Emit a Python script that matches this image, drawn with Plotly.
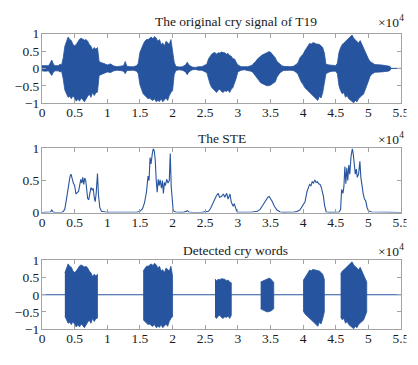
import plotly.graph_objects as go

# ---------------- data ----------------
# envelope of the original cry signal (x10^4), time in s
SIG_T = [0, 0.05, 0.1, 0.125, 0.15, 0.175, 0.2, 0.25, 0.275, 0.3,
         0.325, 0.35, 0.375, 0.4, 0.425, 0.45, 0.475, 0.5, 0.525, 0.55, 0.575, 0.6,
         0.625, 0.65, 0.675, 0.7, 0.725, 0.75, 0.775, 0.8, 0.825, 0.85, 0.875, 0.9,
         0.95, 1.0, 1.05, 1.1, 1.15, 1.2, 1.25, 1.275, 1.3, 1.35, 1.4, 1.45, 1.475,
         1.5, 1.525, 1.55, 1.575, 1.6, 1.625, 1.65, 1.675, 1.7, 1.725, 1.75, 1.775,
         1.8, 1.825, 1.85, 1.875, 1.9, 1.925, 1.95, 1.975, 2.0, 2.025,
         2.05, 2.1, 2.15, 2.2, 2.225, 2.25, 2.3, 2.35, 2.4, 2.45, 2.5, 2.525,
         2.55, 2.575, 2.6, 2.625, 2.65, 2.675, 2.7, 2.725, 2.75, 2.775, 2.8, 2.825,
         2.85, 2.875, 2.9, 2.925, 2.95, 2.975, 3.0,
         3.05, 3.1, 3.15, 3.2,
         3.225, 3.25, 3.275, 3.3, 3.325, 3.35, 3.375, 3.4, 3.425, 3.45, 3.475, 3.5,
         3.525, 3.55, 3.575, 3.6, 3.625, 3.65, 3.675, 3.7,
         3.75, 3.8, 3.85, 3.9,
         3.925, 3.95, 3.975, 4.0, 4.025, 4.05, 4.075, 4.1, 4.125, 4.15, 4.175, 4.2,
         4.225, 4.25, 4.275, 4.3, 4.325, 4.35,
         4.4, 4.45, 4.5, 4.525,
         4.55, 4.575, 4.6, 4.625, 4.65, 4.675, 4.7, 4.725, 4.75, 4.775, 4.8, 4.825,
         4.85, 4.875, 4.9, 4.925, 4.95, 4.975, 5.0, 5.025, 5.05,
         5.1, 5.2, 5.3, 5.33, 5.35, 5.5]
SIG_UP = [0.08, 0.09, 0.08, 0.15, 0.24, 0.12, 0.08, 0.08, 0.12, 0.1,
          0.3, 0.64, 0.78, 0.9, 0.83, 0.8, 0.69, 0.65, 0.69, 0.78, 0.84, 0.87,
          0.84, 0.81, 0.83, 0.78, 0.69, 0.64, 0.53, 0.6, 0.55, 0.6, 0.2, 0.17,
          0.14, 0.1, 0.13, 0.07, 0.05, 0.06, 0.08, 0.2, 0.06, 0.05, 0.05, 0.08, 0.15,
          0.46, 0.6, 0.69, 0.78, 0.83, 0.83, 0.87, 0.9, 0.85, 0.92, 0.87, 0.78,
          0.83, 0.69, 0.73, 0.64, 0.78, 0.73, 0.69, 0.83, 0.55, 0.18,
          0.06, 0.04, 0.05, 0.1, 0.18, 0.1, 0.04, 0.03, 0.05, 0.05, 0.1, 0.12,
          0.27, 0.35, 0.41, 0.44, 0.46, 0.41, 0.45, 0.44, 0.47, 0.46, 0.45, 0.41,
          0.43, 0.37, 0.35, 0.28, 0.27, 0.18, 0.1,
          0.05, 0.04, 0.05, 0.08,
          0.1, 0.16, 0.2, 0.27, 0.32, 0.37, 0.39, 0.41, 0.44, 0.46, 0.48, 0.47,
          0.41, 0.36, 0.3, 0.2, 0.16, 0.1, 0.08, 0.06,
          0.05, 0.05, 0.06, 0.12,
          0.18, 0.3, 0.36, 0.41, 0.5, 0.57, 0.64, 0.72, 0.7, 0.74, 0.73, 0.7,
          0.7, 0.69, 0.65, 0.6, 0.45, 0.12,
          0.1, 0.08, 0.08, 0.15,
          0.46, 0.6, 0.69, 0.73, 0.78, 0.83, 0.87, 0.92, 0.96, 0.87, 0.83, 0.78,
          0.73, 0.8, 0.69, 0.6, 0.5, 0.37, 0.28, 0.2, 0.17,
          0.11, 0.1, 0.08, 0.06, 0.0, 0.0]
SIG_LO = [-0.07, -0.08, -0.07, -0.12, -0.2, -0.1, -0.07, -0.07, -0.1, -0.08,
          -0.3, -0.62, -0.73, -0.83, -0.8, -0.87, -0.78, -0.85, -0.94, -0.87, -0.94, -0.85,
          -0.9, -0.96, -0.87, -0.8, -0.74, -0.83, -0.69, -0.78, -0.7, -0.68, -0.2, -0.17,
          -0.14, -0.1, -0.12, -0.07, -0.05, -0.06, -0.08, -0.15, -0.06, -0.05, -0.05, -0.08, -0.15,
          -0.46, -0.6, -0.73, -0.78, -0.83, -0.87, -0.85, -0.9, -0.92, -0.87, -0.96, -0.92,
          -0.95, -0.87, -0.96, -0.9, -0.85, -0.92, -0.78, -0.69, -0.64, -0.18,
          -0.06, -0.04, -0.05, -0.1, -0.18, -0.1, -0.04, -0.03, -0.05, -0.05, -0.1, -0.12,
          -0.27, -0.45, -0.55, -0.6, -0.64, -0.69, -0.62, -0.6, -0.66, -0.69, -0.64, -0.66,
          -0.62, -0.69, -0.6, -0.55, -0.45, -0.28, -0.1,
          -0.05, -0.04, -0.05, -0.08,
          -0.1, -0.16, -0.22, -0.28, -0.35, -0.41, -0.44, -0.46, -0.48, -0.5, -0.49, -0.48,
          -0.46, -0.41, -0.38, -0.25, -0.18, -0.12, -0.09, -0.06,
          -0.05, -0.05, -0.06, -0.12,
          -0.18, -0.3, -0.4, -0.46, -0.55, -0.6, -0.64, -0.69, -0.75, -0.78, -0.82, -0.87,
          -0.92, -0.8, -0.85, -0.7, -0.5, -0.15,
          -0.1, -0.08, -0.08, -0.15,
          -0.5, -0.64, -0.73, -0.69, -0.83, -0.78, -0.87, -0.9, -0.94, -0.99, -0.92, -0.96,
          -0.87, -0.83, -0.78, -0.74, -0.64, -0.5, -0.37, -0.23, -0.17,
          -0.11, -0.1, -0.08, -0.06, 0.0, 0.0]

# short-time energy (x10^4)
STE_T = [0, 0.1, 0.13, 0.15, 0.17, 0.2, 0.3, 0.33, 0.35, 0.37, 0.39, 0.41, 0.43, 0.445,
         0.46, 0.48, 0.5, 0.52, 0.54, 0.56, 0.58, 0.595, 0.61, 0.625, 0.64, 0.655, 0.67,
         0.685, 0.7, 0.715, 0.73, 0.75, 0.77, 0.785, 0.8, 0.815, 0.83, 0.85, 0.865, 0.885,
         0.91, 0.95, 1.0, 1.1, 1.25, 1.28, 1.31, 1.45, 1.5, 1.54, 1.57, 1.6, 1.625, 1.64,
         1.655, 1.67, 1.69, 1.705, 1.72, 1.735, 1.75, 1.765, 1.78, 1.795, 1.81, 1.83, 1.845,
         1.86, 1.875, 1.89, 1.91, 1.93, 1.95, 1.965, 1.98, 1.995, 2.01, 2.05, 2.15, 2.2,
         2.225, 2.25, 2.3, 2.45, 2.55, 2.58, 2.61, 2.64, 2.67, 2.7, 2.72, 2.75, 2.78, 2.8,
         2.83, 2.85, 2.88, 2.9, 2.93, 2.945, 2.96, 2.98, 3.0, 3.2, 3.3, 3.34, 3.38, 3.42,
         3.46, 3.48, 3.5, 3.53, 3.56, 3.6, 3.65, 3.7, 3.85, 3.9, 3.95, 3.99, 4.03, 4.06,
         4.08, 4.1, 4.12, 4.14, 4.16, 4.18, 4.2, 4.22, 4.24, 4.26, 4.28, 4.31, 4.33, 4.355,
         4.4, 4.55, 4.575, 4.59, 4.61, 4.625, 4.64, 4.655, 4.67, 4.685, 4.7, 4.715, 4.735,
         4.755, 4.77, 4.785, 4.8, 4.815, 4.83, 4.85, 4.87, 4.885, 4.9, 4.92, 4.94, 4.96,
         4.98, 5.0, 5.05, 5.2, 5.5]
STE_V = [0, 0, 0.01, 0.04, 0.01, 0, 0, 0.02, 0.06, 0.18, 0.32, 0.46, 0.57, 0.6,
         0.53, 0.46, 0.42, 0.29, 0.31, 0.33, 0.44, 0.52, 0.46, 0.55, 0.44, 0.54, 0.5,
         0.3, 0.22, 0.2, 0.3, 0.39, 0.35, 0.38, 0.24, 0.17, 0.3, 0.61, 0.28, 0.08,
         0.02, 0.01, 0.005, 0.005, 0.005, 0.012, 0.003, 0.005, 0.02, 0.06, 0.15, 0.32, 0.57, 0.5,
         0.86, 0.76, 0.92, 1.0, 0.96, 0.82, 0.5, 0.32, 0.52, 0.42, 0.51, 0.38, 0.5,
         0.3, 0.47, 0.42, 0.52, 0.46, 0.5, 0.92, 0.4, 0.12, 0.03, 0.005, 0.003, 0.015,
         0.03, 0.01, 0.002, 0.003, 0.02, 0.06, 0.13, 0.2, 0.26, 0.3, 0.24, 0.25, 0.29, 0.24,
         0.3, 0.21, 0.29, 0.16, 0.1, 0.14, 0.09, 0.03, 0.005, 0.005, 0.02, 0.05, 0.11, 0.18,
         0.24, 0.25, 0.22, 0.17, 0.1, 0.04, 0.01, 0.003, 0.005, 0.015, 0.04, 0.1, 0.17, 0.33,
         0.38, 0.44, 0.42, 0.48, 0.46, 0.51, 0.47, 0.48, 0.45, 0.44, 0.39, 0.26, 0.11, 0.01,
         0.003, 0.005, 0.05, 0.36, 0.3, 0.4, 0.72, 0.45, 0.7, 0.5, 0.74, 0.6, 0.88,
         1.0, 0.9, 0.78, 0.6, 0.68, 0.55, 0.6, 0.8, 0.55, 0.4, 0.3, 0.21, 0.18,
         0.08, 0.03, 0.01, 0.005, 0]

# detected cry-word segments (start, end) in s
WORD_START = [0.35, 1.55, 2.65, 3.35, 4.0, 4.575]
WORD_END = [0.85, 2.0, 2.9, 3.55, 4.325, 4.975]

X_TICKS = [0, 0.5, 1, 1.5, 2, 2.5, 3, 3.5, 4, 4.5, 5, 5.5]
X_LABELS = ["0", "0.5", "1", "1.5", "2", "2.5", "3", "3.5", "4", "4.5", "5", "5.5"]
Y_TICKS = [-1, -0.5, 0, 0.5, 1]
Y_LABELS = ["\u22121", "\u22120.5", "0", "0.5", "1"]
STE_TICKS = [0, 0.5, 1]
STE_LABELS = ["0", "0.5", "1"]
TITLES = ["The original cry signal of T19", "The STE", "Detected cry words"]

# ---------------- figure ----------------
OFF = 8                      # page body margin offset
W, H = 418 - OFF, 365 - OFF
ML, MR, MT, MB = 42 - OFF, 17, 4, 4
PW, PH = W - ML - MR, H - MT - MB
COL = "#27549e"
AX = "#a3a3a3"
FONT = "Liberation Serif, Times New Roman, serif"

def px_y(p):                 # page pixel y -> paper fraction
    return (H - MB - (p - OFF)) / PH

def px_x(p):                 # page pixel x -> paper fraction
    return (p - OFF - ML) / PW

fig = go.Figure()

fig.add_trace(go.Scatter(x=SIG_T + SIG_T[::-1], y=SIG_UP + SIG_LO[::-1],
                         fill="toself", fillcolor=COL, mode="lines",
                         line=dict(color=COL, width=0.8),
                         xaxis="x", yaxis="y", hoverinfo="skip"))

fig.add_trace(go.Scatter(x=STE_T, y=STE_V, mode="lines",
                         line=dict(color=COL, width=1.1),
                         xaxis="x2", yaxis="y2"))

fig.add_trace(go.Scatter(x=[X_TICKS[0], X_TICKS[-1]], y=[0, 0], mode="lines",
                         line=dict(color=COL, width=1.2), xaxis="x3", yaxis="y3"))
for s, e in zip(WORD_START, WORD_END):
    idx = [i for i, t in enumerate(SIG_T) if s - 1e-9 <= t <= e + 1e-9]
    xs = [SIG_T[i] for i in idx]
    up = [SIG_UP[i] for i in idx]
    lo = [SIG_LO[i] for i in idx]
    fig.add_trace(go.Scatter(x=xs + xs[::-1], y=up + lo[::-1], fill="toself",
                             fillcolor=COL, mode="lines",
                             line=dict(color=COL, width=0.8),
                             xaxis="x3", yaxis="y3", hoverinfo="skip"))

tf = dict(family=FONT, size=13.5, color="#1a1a1a")
common_x = dict(range=[0, 5.5], tickvals=X_TICKS, ticktext=X_LABELS,
                ticks="inside", ticklen=4, tickcolor=AX, showline=True,
                linecolor=AX, linewidth=1, mirror="ticks", showgrid=False,
                zeroline=False, tickfont=tf, ticklabelstandoff=-3)
common_y = dict(ticks="inside", ticklen=4, tickcolor=AX, showline=True,
                linecolor=AX, linewidth=1, mirror="ticks", showgrid=False,
                zeroline=False, tickfont=tf, ticklabelstandoff=-1)

doms = [[px_y(100), px_y(27.3)], [px_y(214.3), px_y(147.3)], [px_y(336), px_y(264.3)]]

fig.update_layout(
    width=W, height=H, margin=dict(l=ML, r=MR, t=MT, b=MB),
    paper_bgcolor="white", plot_bgcolor="white", showlegend=False,
    xaxis=dict(**common_x, anchor="y"),
    xaxis2=dict(**common_x, anchor="y2"),
    xaxis3=dict(**common_x, anchor="y3"),
    yaxis=dict(**common_y, range=[-1, 1], tickvals=Y_TICKS, ticktext=Y_LABELS,
               domain=doms[0], anchor="x"),
    yaxis2=dict(**common_y, range=[0, 1], tickvals=STE_TICKS, ticktext=STE_LABELS,
                domain=doms[1], anchor="x2"),
    yaxis3=dict(**common_y, range=[-1, 1], tickvals=Y_TICKS, ticktext=Y_LABELS,
                domain=doms[2], anchor="x3"),
)

title_x = [236, 222.5, 236]
title_y = [15, 137, 254]
for txt, tx, ty in zip(TITLES, title_x, title_y):
    fig.add_annotation(text=txt, xref="paper", yref="paper",
                       x=px_x(tx), y=px_y(ty),
                       xanchor="center", yanchor="middle", showarrow=False,
                       font=tf)
    fig.add_annotation(text="\u00d710<sup>4</sup>", xref="paper", yref="paper",
                       x=px_x(406), y=px_y(ty),
                       xanchor="right", yanchor="middle", showarrow=False,
                       font=tf)

# the reference image is cropped just right of the last tick label
fig.add_shape(type="rect", xref="paper", yref="paper", layer="above",
              x0=px_x(406.5), x1=px_x(430), y0=-0.1, y1=1.1,
              fillcolor="white", line=dict(width=0))

fig.write_html("out.html")
